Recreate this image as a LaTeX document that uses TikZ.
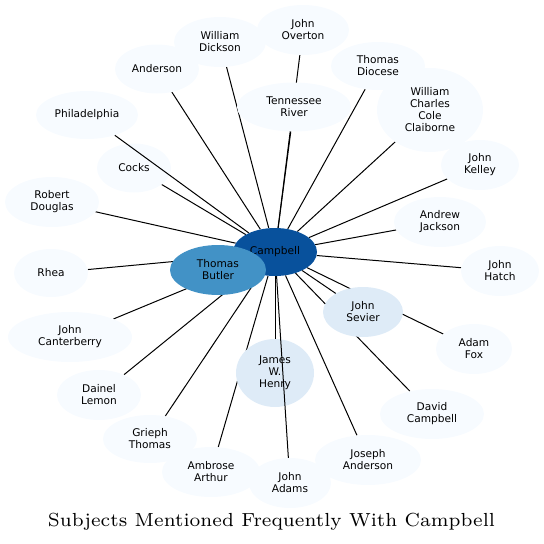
\documentclass[tikz,border=0pt]{standalone}
\usepackage{fontspec}
\usepackage{graphicx}
\newfontfamily\dvsans{DejaVu Sans}
\newfontfamily\ttlfont{lmroman7-regular.otf}
\usetikzlibrary{shapes.geometric}
\pgfdeclarelayer{background}
\pgfsetlayers{background,main}
\definecolor{bA}{HTML}{F7FBFF}
\definecolor{bB}{HTML}{DEEBF7}
\definecolor{bE}{HTML}{4292C6}
\definecolor{bG}{HTML}{08519C}
\begin{document}
\begin{tikzpicture}[x=1pt,y=-1pt,
  nd/.style={ellipse, inner sep=0pt, draw=none, align=center, text=black,
    font=\dvsans\fontsize{10.6}{12}\selectfont},
  lA/.style={nd, fill=bA},
  lB/.style={nd, fill=bB},
  lE/.style={nd, fill=bE},
  lG/.style={nd, fill=bG},
  sz/.style 2 args={minimum width=#1pt, minimum height=#2pt},
  lnk/.style={draw=black, line width=1pt}]
\useasboundingbox (0,0) rectangle (544,544);
% nodes
\node[lG, sz={84}{48}] (campbell) at (275,252) {Campbell};
\node[lE, sz={96}{50}] (butler) at (218,270) {Thomas\\Butler};
\node[lB, sz={80}{50}] (sevier) at (363,312) {John\\Sevier};
\node[lB, sz={78}{68}] (henry) at (275,373) {James\\W.\\Henry};
\node[lA, sz={92}{50}] (overton) at (303,30) {John\\Overton};
\node[lA, sz={92}{50}] (dickson) at (220,42) {William\\Dickson};
\node[lA, sz={84}{49}] (anderson) at (157,69) {Anderson};
\node[lA, sz={114}{49}] (tennessee) at (294,107) {Tennessee\\River};
\node[lA, sz={94}{48}] (diocese) at (378,66) {Thomas\\Diocese};
\node[lA, sz={106}{84}] (claiborne) at (430,110) {William\\Charles\\Cole\\Claiborne};
\node[lA, sz={78}{50}] (kelley) at (480,165) {John\\Kelley};
\node[lA, sz={92}{50}] (jackson) at (440,222) {Andrew\\Jackson};
\node[lA, sz={78}{50}] (hatch) at (500,271) {John\\Hatch};
\node[lA, sz={76}{50}] (fox) at (474,349) {Adam\\Fox};
\node[lA, sz={104}{50}] (david) at (432,414) {David\\Campbell};
\node[lA, sz={106}{50}] (joseph) at (368,460) {Joseph\\Anderson};
\node[lA, sz={82}{50}] (adams) at (290,483) {John\\Adams};
\node[lA, sz={98}{50}] (ambrose) at (211,472) {Ambrose\\Arthur};
\node[lA, sz={94}{48}] (grieph) at (150,439) {Grieph\\Thomas};
\node[lA, sz={84}{50}] (lemon) at (99,395) {Dainel\\Lemon};
\node[lA, sz={124}{50}] (canterberry) at (70,337) {John\\Canterberry};
\node[lA, sz={74}{48}] (rhea) at (51,273) {Rhea};
\node[lA, sz={94}{50}] (douglas) at (52,202) {Robert\\Douglas};
\node[lA, sz={74}{49}] (cocks) at (134,168) {Cocks};
\node[lA, sz={102}{48}] (philadelphia) at (87,115) {Philadelphia};
% title
\node[anchor=base, inner sep=0pt] (title) at (271.5,526)
  {\resizebox{447pt}{!}{\ttlfont Subjects Mentioned Frequently With Campbell}};
% edges under the nodes
\begin{pgfonlayer}{background}
\foreach \t in {butler,sevier,henry,overton,dickson,anderson,tennessee,diocese,claiborne,kelley,jackson,hatch,fox,david,joseph,ambrose,grieph,lemon,canterberry,rhea,douglas,cocks}
  \draw[lnk] (campbell) -- (\t);
\end{pgfonlayer}
% these edges are drawn over other nodes
\draw[lnk] (campbell) -- (adams);
\draw[lnk] (campbell) -- (philadelphia);
\end{tikzpicture}
\end{document}
